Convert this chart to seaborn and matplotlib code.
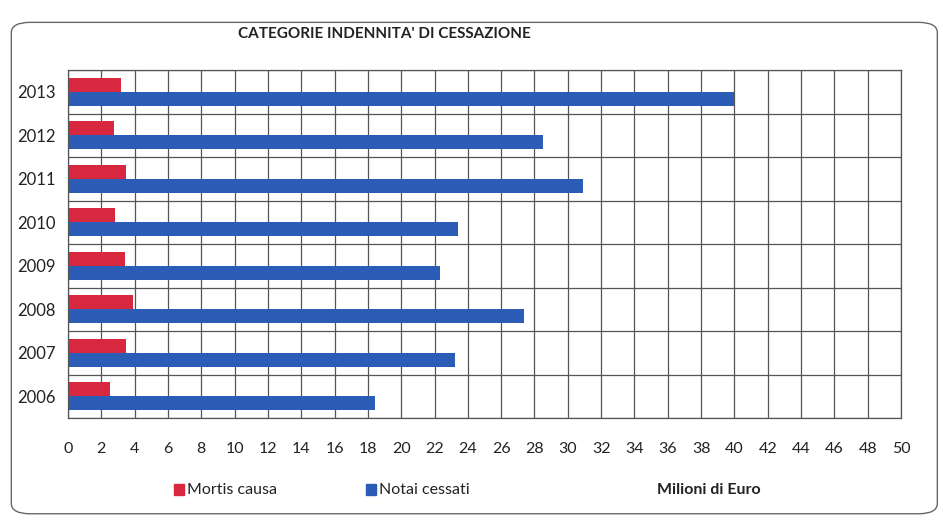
import pandas as pd
import seaborn as sns
import matplotlib.pyplot as plt
from matplotlib.patches import FancyBboxPatch, Rectangle
import numpy as np

# Data (milioni di Euro)
anni = ["2013", "2012", "2011", "2010", "2009", "2008", "2007", "2006"]
mortis_causa = [3.2, 2.75, 3.5, 2.8, 3.45, 3.9, 3.5, 2.5]
notai_cessati = [40.0, 28.5, 30.9, 23.4, 22.3, 27.4, 23.2, 18.4]
serie = ["Mortis causa", "Notai cessati"]
colori = ["#d8283f", "#2b5cb6"]

df = pd.DataFrame({
    "Anno": anni * 2,
    "Serie": [serie[0]] * len(anni) + [serie[1]] * len(anni),
    "Valore": mortis_causa + notai_cessati,
})

sns.set_style("white")
plt.rcParams["font.family"] = ["Lato", "DejaVu Sans"]

fig = plt.figure(figsize=(9.43, 5.2), dpi=100)
ax = fig.add_axes([0.0721, 0.196, 0.8834, 0.6694])

sns.barplot(data=df, y="Anno", x="Valore", hue="Serie", order=anni,
            hue_order=serie, palette=colori, width=0.64, saturation=1,
            orient="h", ax=ax, legend=False, linewidth=0)

ax.set_xlim(0, 50)
ax.set_ylim(len(anni) - 0.5, -0.5)
ax.set_xticks(np.arange(0, 51, 2))
ax.set_yticks(range(len(anni)))
ax.set_yticks(np.arange(-0.5, len(anni), 1), minor=True)
ax.grid(axis="x", which="major", color="#555555", linewidth=0.9)
ax.grid(axis="y", which="minor", color="#555555", linewidth=0.9)
ax.set_axisbelow(True)
ax.tick_params(axis="x", which="major", length=5, color="#555555",
               labelsize=11.5, pad=12, labelcolor="#222222")
ax.tick_params(axis="y", which="major", length=0, labelsize=12,
               pad=9, labelcolor="#222222")
ax.tick_params(axis="y", which="minor", length=4, color="#555555")
for s in ax.spines.values():
    s.set_color("#555555")
    s.set_linewidth(0.9)
ax.set_xlabel("")
ax.set_ylabel("")

fig.text(0.408, 0.935, "CATEGORIE INDENNITA' DI CESSAZIONE", ha="center",
         va="center", fontsize=11, fontweight="bold", color="#222222")

# legend and unit label
fig.patches.append(Rectangle((0.184, 0.049), 0.011, 0.02, transform=fig.transFigure,
                             color=colori[0]))
fig.text(0.198, 0.058, serie[0], va="center", fontsize=11.5, color="#222222")
fig.patches.append(Rectangle((0.388, 0.049), 0.011, 0.02, transform=fig.transFigure,
                             color=colori[1]))
fig.text(0.402, 0.058, serie[1], va="center", fontsize=11.5, color="#222222")
fig.text(0.752, 0.058, "Milioni di Euro", ha="center", va="center",
         fontsize=11.5, fontweight="bold", color="#222222")

# rounded frame
fig.patches.append(FancyBboxPatch((0.012, 0.012), 0.982, 0.945,
                                  boxstyle="round,pad=0,rounding_size=0.02",
                                  transform=fig.transFigure, fill=False,
                                  edgecolor="#666666", linewidth=1.0))

fig.savefig("out.png", dpi=100)
plt.close(fig)
